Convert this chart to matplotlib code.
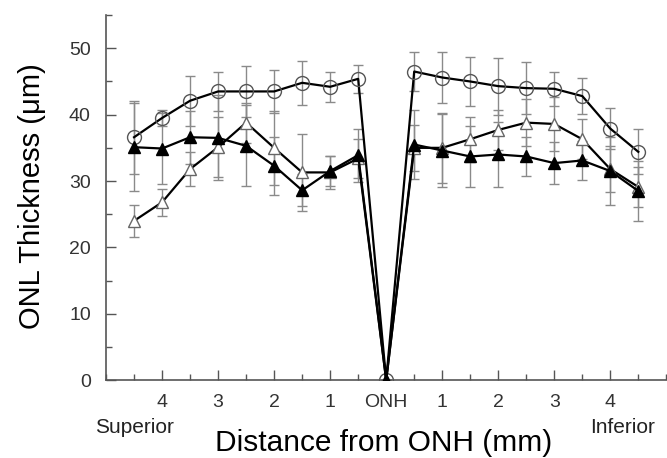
"""
ONL thickness profile vs distance from ONH.
"""
import matplotlib
matplotlib.use("Agg")
import matplotlib.pyplot as plt
from matplotlib.ticker import MultipleLocator

plt.rcParams['font.family'] = ['Liberation Sans', 'DejaVu Sans']

# distance from ONH (mm); negative = superior, positive = inferior
positions = [-4.5, -4, -3.5, -3, -2.5, -2, -1.5, -1, -0.5, 0,
             0.5, 1, 1.5, 2, 2.5, 3, 3.5, 4, 4.5]

# open circles
circle_vals = [36.6, 39.5, 42.1, 43.5, 43.5, 43.5, 44.8, 44.2, 45.4, 0,
               46.5, 45.6, 45.0, 44.3, 44.0, 43.9, 42.8, 37.9, 34.4]
circle_err = [5.5, 1.2, 3.8, 3.0, 3.9, 3.2, 3.3, 2.3, 2.1, 0,
              3.0, 3.9, 3.7, 4.3, 3.9, 2.6, 2.7, 3.1, 3.4]

# filled triangles
filled_vals = [35.1, 34.9, 36.6, 36.5, 35.3, 32.3, 28.6, 31.5, 33.9, 0,
               35.5, 34.6, 33.7, 34.0, 33.7, 32.7, 33.1, 31.5, 28.5]
filled_err = [6.6, 5.4, 4.0, 6.4, 6.1, 4.4, 2.4, 2.3, 4.0, 0,
              5.2, 5.5, 4.6, 4.9, 3.0, 3.2, 2.9, 5.1, 4.5]

# open triangles
open_vals = [24.0, 26.8, 31.8, 35.1, 38.8, 35.0, 31.3, 31.3, 33.4, 0,
             35.0, 35.0, 36.3, 37.7, 38.8, 38.6, 36.3, 31.8, 29.1]
open_err = [2.4, 2.0, 2.5, 4.5, 3.0, 5.6, 5.8, 2.5, 3.0, 0,
            3.5, 5.3, 3.4, 3.0, 3.5, 4.0, 3.0, 3.5, 3.0]

tick_pos = [-4, -3, -2, -1, 0, 1, 2, 3, 4]
tick_labels = ['4', '3', '2', '1', 'ONH', '1', '2', '3', '4']

fig = plt.figure(figsize=(6.67, 4.58), dpi=100)
ax = fig.add_axes([0.159, 0.170, 0.84, 0.797])

err_style = dict(ecolor='#8a8a8a', elinewidth=1.0, capsize=3.5, capthick=1.0, zorder=1)
ax.errorbar(positions, open_vals, yerr=open_err, fmt='none', **err_style)
ax.errorbar(positions, filled_vals, yerr=filled_err, fmt='none', **err_style)
ax.errorbar(positions, circle_vals, yerr=circle_err, fmt='none', **err_style)

ax.plot(positions, circle_vals, color='black', linewidth=1.6, marker='o',
        markersize=10, markerfacecolor='none', markeredgecolor='#555555',
        markeredgewidth=1.0, zorder=3)
ax.plot(positions, open_vals, color='black', linewidth=1.6, marker='^',
        markersize=9, markerfacecolor='white', markeredgecolor='#666666',
        markeredgewidth=1.0, zorder=3)
ax.plot(positions, filled_vals, color='black', linewidth=1.6, marker='^',
        markersize=9, markerfacecolor='black', markeredgecolor='black', zorder=4)

ax.set_xlim(-5, 5)
ax.set_ylim(0, 55)
ax.set_xticks(tick_pos)
ax.set_xticklabels(tick_labels)
ax.xaxis.set_minor_locator(MultipleLocator(0.5))
ax.set_yticks([0, 10, 20, 30, 40, 50])
ax.yaxis.set_minor_locator(MultipleLocator(5))

for side in ['top', 'right']:
    ax.spines[side].set_visible(False)
for side in ['left', 'bottom']:
    ax.spines[side].set_color('#555555')
    ax.spines[side].set_linewidth(1.2)

ax.tick_params(axis='both', which='major', direction='in', length=7, width=1.0,
               color='#555555', labelsize=14, labelcolor='#333333')
ax.tick_params(axis='both', which='minor', direction='in', length=4, width=1.0,
               color='#555555')
ax.tick_params(axis='x', which='major', pad=10)
ax.tick_params(axis='y', which='major', pad=11)

ax.set_xlabel("Distance from ONH (mm)", fontsize=21.5, va='baseline')
ax.xaxis.set_label_coords(0.495, -0.195)
ax.set_ylabel("ONL Thickness (\u03bcm)", fontsize=21, va='center')
ax.yaxis.set_label_coords(-0.132, 0.505)

fig.text(134 / 667, 25 / 458, "Superior", fontsize=15, ha='center', va='baseline', color='#222222')
fig.text(623 / 667, 25 / 458, "Inferior", fontsize=15, ha='center', va='baseline', color='#222222')

fig.savefig("out.png", dpi=100)
plt.close(fig)
